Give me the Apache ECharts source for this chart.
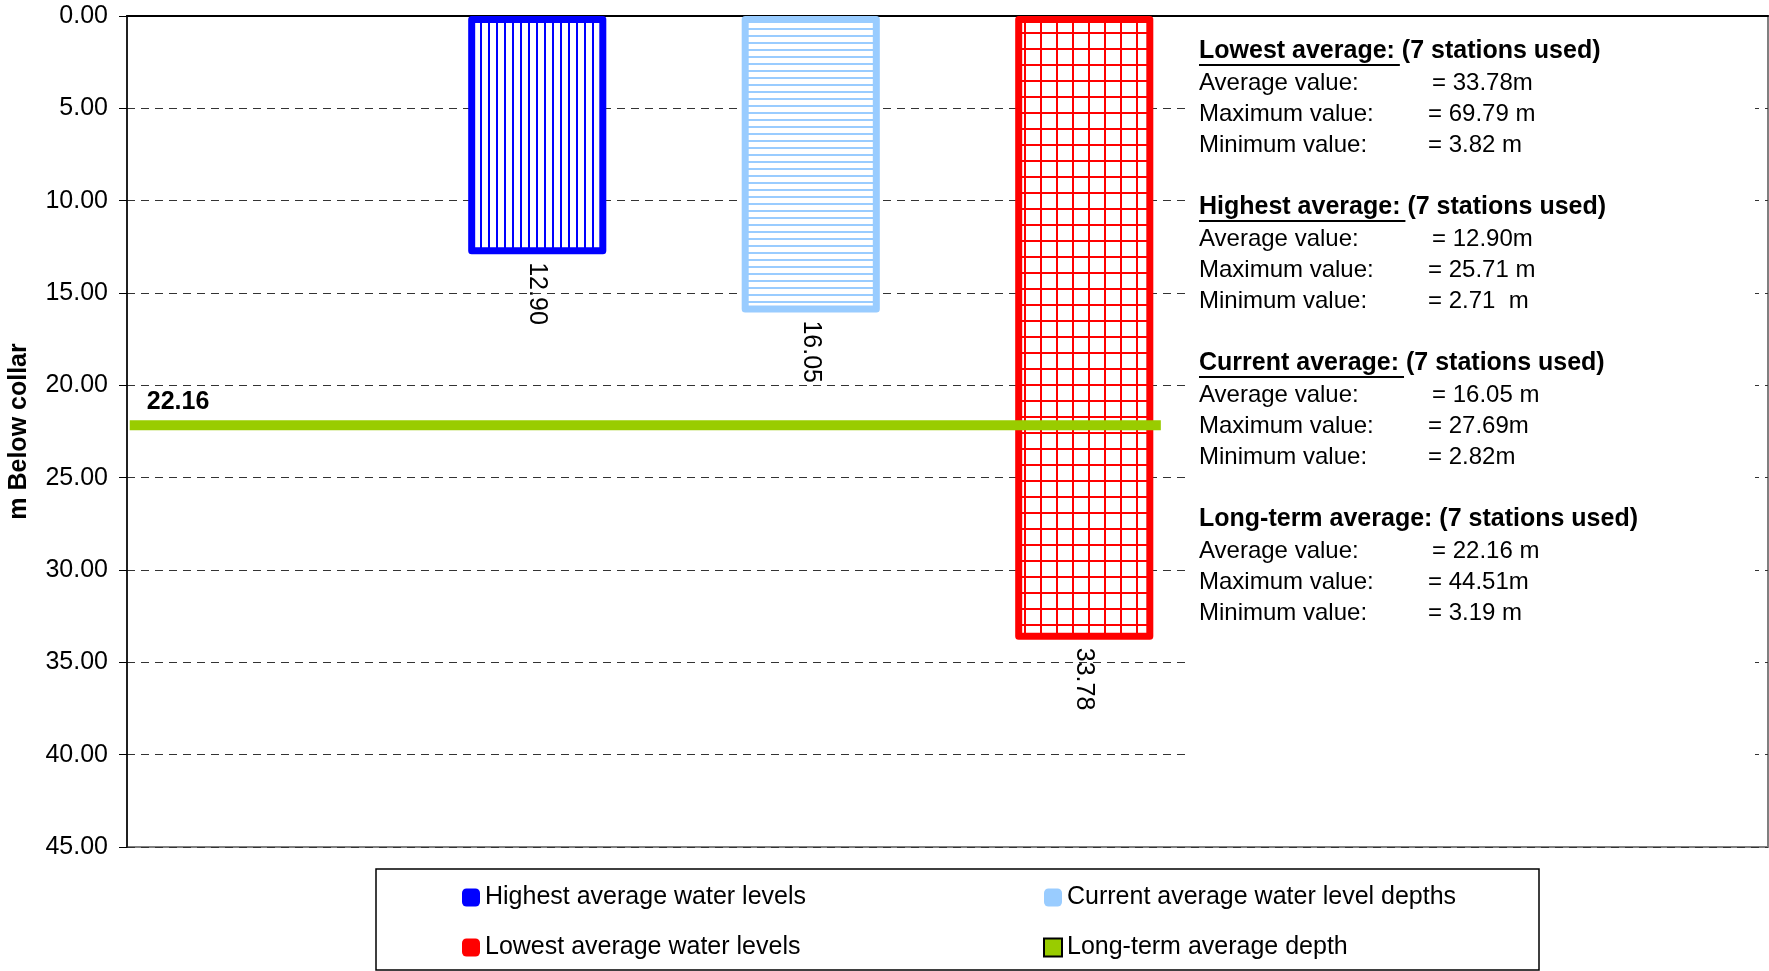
<!DOCTYPE html>
<html>
<head>
<meta charset="utf-8">
<script src="https://cdn.jsdelivr.net/npm/echarts@6/dist/echarts.min.js"></script>
<style>
html,body{margin:0;padding:0;background:#fff;}
#chart{width:1769px;height:971px;}
</style>
</head>
<body>
<div id="chart"></div>
<script>
// ---------- DATA ----------
const categories = ['', '', '', '', '', ''];
const highestValues = [null, 12.90, null, null, null, null];
const currentValues = [null, null, 16.05, null, null, null];
const lowestValues  = [null, null, null, 33.78, null, null];
const longTermValue = 22.16;
const longTermSpan  = [0.01, 3.78];           // extent of the long-term line, in category units
const yMin = 0, yMax = 45, yStep = 5;
const seriesNames = ['Highest average water levels', 'Current average water level depths',
                     'Lowest average water levels', 'Long-term average depth'];
const statTitles = ['Lowest average:', 'Highest average:', 'Current average:', 'Long-term average:'];
const statNotes  = [' (7 stations used)', ' (7 stations used)', ' (7 stations used)', ' (7 stations used)'];
const statUnderline = [true, true, true, false];
const statRowLabels = ['Average value:', 'Maximum value:', 'Minimum value:'];
const statLowest   = ['= 33.78m', '= 69.79 m', '= 3.82 m'];
const statHighest  = ['= 12.90m', '= 25.71 m', '= 2.71  m'];
const statCurrent  = ['= 16.05 m', '= 27.69m', '= 2.82m'];
const statLongTerm = ['= 22.16 m', '= 44.51m', '= 3.19 m'];
const statValues = [statLowest, statHighest, statCurrent, statLongTerm];

// ---------- STYLE ----------
const FONT = '"Liberation Sans", Arial, Helvetica, sans-serif';
const BLUE = '#0000FF', LIGHT = '#99CCFF', RED = '#FF0000', GREEN = '#99CC00';

function makePattern(w, h, draw) {
  const c = document.createElement('canvas');
  c.width = w; c.height = h;
  const ctx = c.getContext('2d');
  ctx.fillStyle = '#fff'; ctx.fillRect(0, 0, w, h);
  draw(ctx);
  return { image: c, repeat: 'repeat' };
}
const bluePat = makePattern(8, 8, ctx => { ctx.fillStyle = BLUE; ctx.fillRect(0, 0, 2, 8); });
const lightPat = makePattern(7, 7, ctx => { ctx.fillStyle = LIGHT; ctx.fillRect(0, 0, 7, 2); });
const redPat = makePattern(16, 16, ctx => { ctx.fillStyle = RED; ctx.fillRect(0, 0, 2, 16); ctx.fillRect(0, 0, 16, 2); });

const chart = echarts.init(document.getElementById('chart'), null, { renderer: 'canvas' });

const barLabel = {
  show: true, position: 'bottom', rotate: -90, align: 'left', verticalAlign: 'middle',
  distance: 8, fontSize: 25, fontFamily: FONT, color: '#000',
  formatter: p => (p.value == null ? '' : Number(p.value).toFixed(2))
};
function barSeries(name, data, pattern, border) {
  return {
    name, type: 'bar', data, barWidth: '50.5%', barGap: '-100%',
    itemStyle: { color: pattern, borderColor: border, borderWidth: 7, borderJoin: 'round' },
    label: barLabel, emphasis: { disabled: true }, z: 2
  };
}

// measure text for underline
const mctx = document.createElement('canvas').getContext('2d');
mctx.font = 'bold 25px ' + FONT;

const graphics = [];
// white text panel covering gridlines
graphics.push({ type: 'rect', z: 5, shape: { x: 1191, y: 17, width: 564, height: 829 }, style: { fill: '#fff' } });
const TX = 1199, VX_AVG = 1432, VX_OTHER = 1428;
for (let g = 0; g < 4; g++) {
  const hy = 51 + g * 156;
  graphics.push({ type: 'text', z: 6, x: TX, y: hy,
    style: { text: statTitles[g] + statNotes[g], fontSize: 25, fontWeight: 'bold', fontFamily: FONT, fill: '#000', verticalAlign: 'middle' } });
  if (statUnderline[g]) {
    const w = mctx.measureText(statTitles[g] + ' ').width;
    graphics.push({ type: 'line', z: 6, shape: { x1: TX, y1: hy + 14, x2: TX + w - 2, y2: hy + 14 }, style: { stroke: '#000', lineWidth: 2 } });
  }
  for (let r = 0; r < 3; r++) {
    const ry = hy + 32 + r * 31;
    graphics.push({ type: 'text', z: 6, x: TX, y: ry,
      style: { text: statRowLabels[r], fontSize: 24, fontFamily: FONT, fill: '#000', verticalAlign: 'middle' } });
    graphics.push({ type: 'text', z: 6, x: r === 0 ? VX_AVG : VX_OTHER, y: ry,
      style: { text: statValues[g][r], fontSize: 24, fontFamily: FONT, fill: '#000', verticalAlign: 'middle' } });
  }
}
// legend frame
graphics.push({ type: 'rect', z: 1, shape: { x: 376, y: 869, width: 1163, height: 101 }, style: { fill: 'none', stroke: '#000', lineWidth: 1.5 } });

const legendText = { fontSize: 25, fontFamily: FONT, color: '#000' };
const option = {
  backgroundColor: '#fff',
  animation: false,
  grid: { left: 127, right: 1, top: 16, bottom: 124, show: true, borderColor: '#808080', borderWidth: 2,
          containLabel: false, outerBoundsMode: 'none' },
  xAxis: [
    { type: 'category', data: categories, position: 'top', boundaryGap: true,
      axisLine: { show: true, lineStyle: { color: '#000', width: 2 } },
      axisTick: { show: false }, axisLabel: { show: false }, splitLine: { show: false } },
    { type: 'value', min: 0, max: categories.length, show: false, position: 'top' }
  ],
  yAxis: {
    type: 'value', inverse: true, min: yMin, max: yMax, interval: yStep,
    name: 'm Below collar', nameLocation: 'middle', nameRotate: 90, nameGap: 95,
    nameTextStyle: { fontSize: 25, fontWeight: 'bold', fontFamily: FONT, color: '#000' },
    axisLine: { show: true, lineStyle: { color: '#000', width: 1.5 } },
    axisTick: { show: true, length: 8, lineStyle: { color: '#000' } },
    axisLabel: { fontSize: 25, fontFamily: FONT, color: '#000', margin: 19, formatter: v => v.toFixed(2) },
    splitLine: { show: true, lineStyle: { color: '#333', width: 1, type: [8, 6] } }
  },
  legend: [
    { data: [ { name: seriesNames[0], itemStyle: { color: BLUE, borderWidth: 0 } },
              { name: seriesNames[2], itemStyle: { color: RED, borderWidth: 0 } } ],
      orient: 'vertical', left: 457, top: 880, itemGap: 25, itemWidth: 18, itemHeight: 18,
      icon: 'roundRect', textStyle: legendText, selectedMode: false },
    { data: [ { name: seriesNames[1], itemStyle: { color: LIGHT, borderWidth: 0 } },
              { name: seriesNames[3], icon: 'rect', itemStyle: { color: GREEN, borderColor: '#000', borderWidth: 2 } } ],
      orient: 'vertical', left: 1038, top: 880, itemGap: 25, itemWidth: 18, itemHeight: 18,
      icon: 'roundRect', textStyle: legendText, selectedMode: false }
  ],
  series: [
    barSeries(seriesNames[0], highestValues, bluePat, BLUE),
    barSeries(seriesNames[1], currentValues, lightPat, LIGHT),
    barSeries(seriesNames[2], lowestValues, redPat, RED),
    {
      name: seriesNames[3], type: 'line', xAxisIndex: 1, yAxisIndex: 0, z: 3,
      symbol: 'circle', symbolSize: 0, showSymbol: true,
      lineStyle: { color: GREEN, width: 10, cap: 'butt' },
      itemStyle: { color: GREEN },
      data: [
        { value: [longTermSpan[0], longTermValue],
          label: { show: true, position: [17, -36], align: 'left', verticalAlign: 'top',
                   fontSize: 25, fontWeight: 'bold', fontFamily: FONT, color: '#000',
                   formatter: p => p.value[1].toFixed(2) } },
        { value: [longTermSpan[1], longTermValue] }
      ],
      emphasis: { disabled: true }
    }
  ],
  graphic: graphics
};
chart.setOption(option);
</script>
</body>
</html>
